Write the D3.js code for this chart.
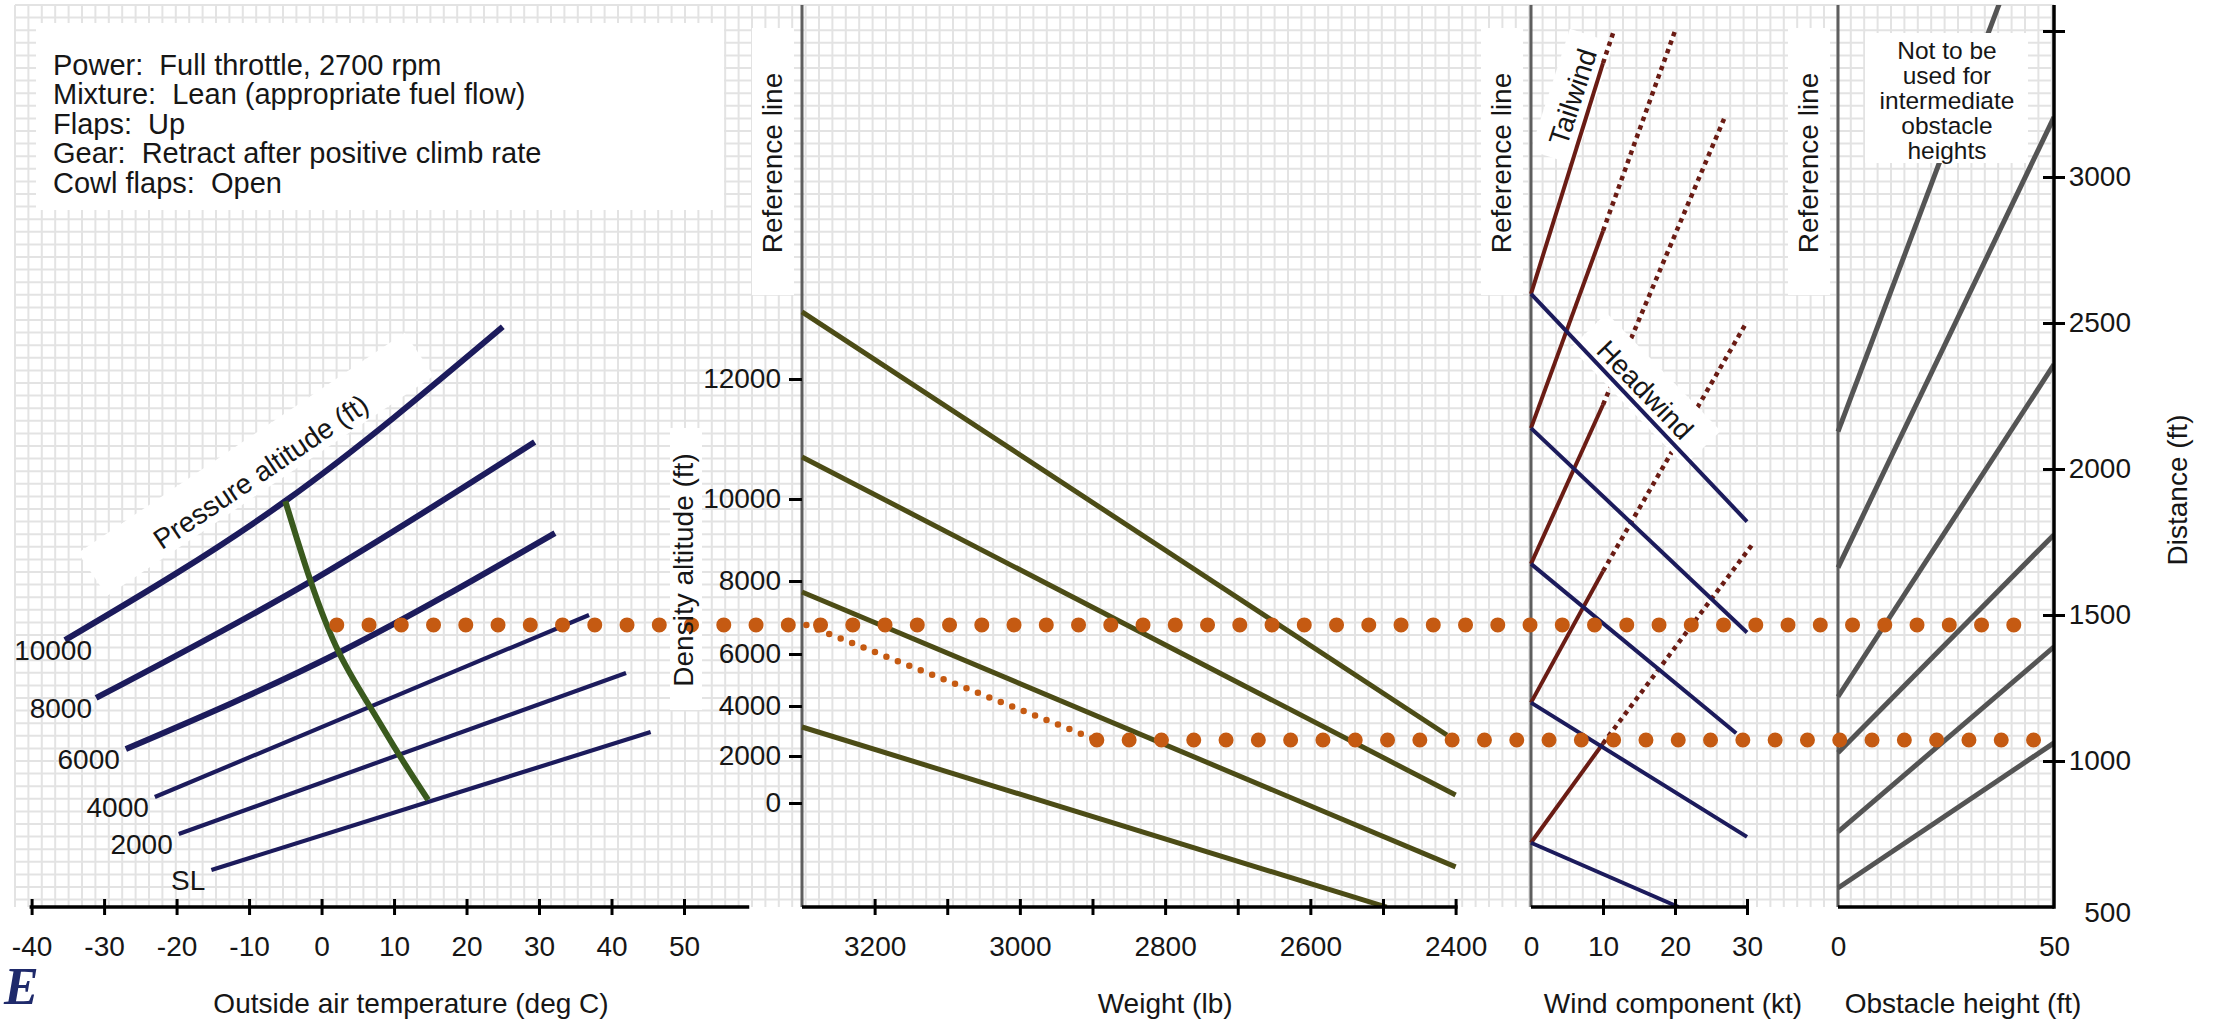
<!DOCTYPE html>
<html>
<head>
<meta charset="utf-8">
<script src="https://cdn.jsdelivr.net/npm/d3@7"></script>
<style>
  body { margin: 0; background: #fff; }
  text { font-family: "Liberation Sans", Arial, sans-serif; fill: #161616; }
</style>
</head>
<body>
<svg id="chart"></svg>
<script>
// ---- values ----
const tempTicks = [-40, -30, -20, -10, 0, 10, 20, 30, 40, 50];
const densityTicks = [0, 2000, 4000, 6000, 8000, 10000, 12000];
const weightTicks = [3200, 3100, 3000, 2900, 2800, 2700, 2600, 2500, 2400];
const weightLabels = [3200, 3000, 2800, 2600, 2400];
const windTicks = [0, 10, 20, 30];
const obstacleTicks = [0, 50];
const distanceTicks = [500, 1000, 1500, 2000, 2500, 3000, 3500];

const conditions = [
  "Power:  Full throttle, 2700 rpm",
  "Mixture:  Lean (appropriate fuel flow)",
  "Flaps:  Up",
  "Gear:  Retract after positive climb rate",
  "Cowl flaps:  Open"
];
const notUsedText = ["Not to be", "used for", "intermediate", "obstacle", "heights"];

// pressure altitude curves, points as [OAT degC, density altitude ft]
const pressureNames = ["10000", "8000", "6000", "4000", "2000", "SL"];
const pa10000 = [[-35.4, 6380], [-5, 9950], [25, 12870]];
const pa8000  = [[-31.1, 4310], [-1.5, 7990], [29.4, 10950]];
const pa6000  = [[-27, 2280], [2.4, 6040], [32.2, 9170]];
const pa4000  = [[-23, 255], [36.9, 7070]];
const pa2000  = [[-19.7, -1320], [42, 5270]];
const paSL    = [[-15.2, -2850], [45.4, 2960]];
const pressureCurves = [pa10000, pa8000, pa6000, pa4000, pa2000, paSL];

// standard temperature line [OAT, density altitude]
const standardTemp = [[-5, 9950], [-1.5, 7990], [2.4, 6040], [6.7, 3960], [10.8, 2000], [14.7, 130]];

// weight guide lines [weight lb, density altitude ft]
const weightLines = [
  [[3300, 13120], [2412, 2840]],
  [[3300, 10700], [2400, 340]],
  [[3300, 7700], [2400, -2720]],
  [[3300, 3160], [2495, -4430]]
];

// wind guide lines, distance ft at 0 kt and the ends [kt, distance]
const windStart = [2600, 2140, 1675, 1200, 720];
const tailAt10 = [3390, 2815, 2220, 1650, 1060];
const tailDotEnd = [[11.5, 3500], [20, 3500], [27, 3210], [30, 2505], [31, 1750]];
const headEnd = [[30, 1820], [30, 1440], [28.5, 1095], [30, 740], [20.5, 500]];

// obstacle guide lines [obstacle ft, distance ft]
const obstacleLines = [
  [[0, 2128], [37.3, 3592]],
  [[0, 1662], [50, 3205]],
  [[0, 1220], [50, 2358]],
  [[0, 1028], [50, 1775]],
  [[0, 757], [50, 1391]],
  [[0, 565], [50, 1062]]
];

// worked example (orange dots)
const exampleTemp = 2.1;
const exampleHigh = 1466, exampleLow = 1072;          // distance ft
const exampleWeightStart = 3294, exampleWeightTurn = 2894;
const exampleObstacleHigh = 41, exampleObstacleLow = 45.3;

// ---- layout ----
const width = 2216, height = 1021;
const axisY = 907, topY = 5;

const svg = d3.select("#chart").attr("width", width).attr("height", height);

const xT = d3.scaleLinear().domain([-40, 50]).range([31.6, 684]);
const yDA = d3.scaleLinear().domain(densityTicks).range([803, 756, 706, 654, 581, 499, 379]);
const xW = d3.scaleLinear().domain([3300, 2400]).range([802, 1455.6]);
const xWind = d3.scaleLinear().domain([0, 30]).range([1531, 1747]);
const xObs = d3.scaleLinear().domain([0, 50]).range([1838, 2054]);
const yD = d3.scaleLinear().domain([500, 3500]).range([axisY, 31]);

const navy = "#1c1b5c", olive = "#4c4c16", brown = "#6a1c14", grey = "#545454",
      green = "#3a5a1e", orange = "#c55a12";

svg.append("defs").append("clipPath").attr("id", "plot")
  .append("rect").attr("x", 0).attr("y", topY).attr("width", 2054).attr("height", axisY - topY);

// grid paper
const grid = svg.append("g");
grid.selectAll(".gx").data(d3.range(15, 2054, 13.4)).join("line")
  .attr("x1", d => d).attr("x2", d => d).attr("y1", topY).attr("y2", axisY)
  .attr("stroke", "#e3e3e3").attr("stroke-width", 2);
grid.selectAll(".gy").data(d3.range(topY, axisY, 12.6)).join("line")
  .attr("x1", 15).attr("x2", 2054).attr("y1", d => d).attr("y2", d => d)
  .attr("stroke", "#e3e3e3").attr("stroke-width", 2);

// white label boxes under the lines
const boxes = svg.append("g").attr("fill", "#fff");
boxes.append("rect").attr("x", 36).attr("y", 23).attr("width", 688).attr("height", 187);
[802, 1531, 1838].forEach(rx => {
  boxes.append("rect").attr("x", rx - 50).attr("y", 28).attr("width", 42).attr("height", 267);
});
boxes.append("rect").attr("x", 670).attr("y", 428).attr("width", 32).attr("height", 282);
boxes.append("g").attr("transform", "translate(257,466) rotate(-34)")
  .append("rect").attr("x", -197).attr("y", -28).attr("width", 394).attr("height", 52);
boxes.append("g").attr("transform", "translate(1573,97) rotate(-72)")
  .append("rect").attr("x", -64).attr("y", -24).attr("width", 128).attr("height", 46);

const plot = svg.append("g").attr("clip-path", "url(#plot)");

// reference lines
[xW(3300), xWind(0), xObs(0)].forEach(rx => {
  plot.append("line").attr("x1", rx).attr("x2", rx).attr("y1", topY).attr("y2", axisY)
    .attr("stroke", "#5e5e5e").attr("stroke-width", 3);
});

// temperature panel
const lineT = d3.line().x(d => xT(d[0])).y(d => yDA(d[1])).curve(d3.curveNatural);
plot.selectAll(".pa").data(pressureCurves).join("path")
  .attr("d", lineT).attr("fill", "none").attr("stroke", navy)
  .attr("stroke-width", (d, i) => i < 3 ? 6 : 4.2);
plot.append("path").datum(standardTemp)
  .attr("d", lineT)
  .attr("fill", "none").attr("stroke", green).attr("stroke-width", 6);

// weight panel
plot.selectAll(".wt").data(weightLines).join("path")
  .attr("d", d3.line().x(d => xW(d[0])).y(d => yDA(d[1])))
  .attr("fill", "none").attr("stroke", olive).attr("stroke-width", 5);

// wind panel: dotted tailwind continuations
const lineWind = d3.line().x(d => xWind(d[0])).y(d => yD(d[1]));
plot.selectAll(".td").data(tailAt10.map((v, i) => [[10, v], tailDotEnd[i]])).join("path")
  .attr("d", lineWind).attr("fill", "none").attr("stroke", brown)
  .attr("stroke-width", 4.5).attr("stroke-dasharray", "4.5 4.5");

// headwind label box covers the dots
const headBox = svg.append("g").attr("transform", "translate(1645,390) rotate(46)");
headBox.append("rect").attr("x", -82).attr("y", -26).attr("width", 164).attr("height", 50).attr("fill", "#fff");

const plot2 = svg.append("g").attr("clip-path", "url(#plot)");
plot2.selectAll(".ts").data(windStart.map((v, i) => [[0, v], [10, tailAt10[i]]])).join("path")
  .attr("d", lineWind).attr("fill", "none").attr("stroke", brown).attr("stroke-width", 4);
plot2.selectAll(".hw").data(windStart.map((v, i) => [[0, v], headEnd[i]])).join("path")
  .attr("d", lineWind).attr("fill", "none").attr("stroke", navy).attr("stroke-width", 4);

// obstacle panel
plot2.selectAll(".ob").data(obstacleLines).join("path")
  .attr("d", d3.line().x(d => xObs(d[0])).y(d => yD(d[1])))
  .attr("fill", "none").attr("stroke", grey).attr("stroke-width", 5);

svg.append("rect").attr("x", 1865).attr("y", 33).attr("width", 163).attr("height", 130).attr("fill", "#fff");

// worked example
const ex = svg.append("g").attr("fill", "none").attr("stroke", orange).attr("stroke-linecap", "round");
ex.append("line")
  .attr("x1", xT(exampleTemp)).attr("x2", xObs(exampleObstacleHigh))
  .attr("y1", yD(exampleHigh)).attr("y2", yD(exampleHigh))
  .attr("stroke-width", 15).attr("stroke-dasharray", "0 32.25");
ex.append("line")
  .attr("x1", xW(exampleWeightStart)).attr("x2", xW(exampleWeightTurn))
  .attr("y1", yD(exampleHigh)).attr("y2", yD(exampleLow))
  .attr("stroke-width", 6.5).attr("stroke-dasharray", "0 12.3");
ex.append("line")
  .attr("x1", xW(exampleWeightTurn)).attr("x2", xObs(exampleObstacleLow))
  .attr("y1", yD(exampleLow)).attr("y2", yD(exampleLow))
  .attr("stroke-width", 15).attr("stroke-dasharray", "0 32.3");

// ---- texts ----
const fs = 28;
svg.append("text").attr("x", 53).attr("font-size", 29).style("white-space", "pre")
  .selectAll("tspan").data(conditions).join("tspan")
  .attr("x", 53).attr("y", (d, i) => 75 + i * 29.4).text(d => d);

svg.append("text").attr("font-size", 24.5).attr("text-anchor", "middle")
  .selectAll("tspan").data(notUsedText).join("tspan")
  .attr("x", 1947).attr("y", (d, i) => 59 + i * 25).text(d => d);

[802, 1531, 1838].forEach(rx => {
  svg.append("text").attr("transform", `translate(${rx - 20},163) rotate(-90)`)
    .attr("text-anchor", "middle").attr("font-size", fs).text("Reference line");
});

svg.append("text").attr("transform", "translate(261,472) rotate(-34)")
  .attr("text-anchor", "middle").attr("dominant-baseline", "central")
  .attr("font-size", fs).text("Pressure altitude (ft)");
svg.append("text").attr("transform", "translate(1573,97) rotate(-72)")
  .attr("text-anchor", "middle").attr("dominant-baseline", "central")
  .attr("font-size", fs).text("Tailwind");
headBox.append("text").attr("text-anchor", "middle").attr("dominant-baseline", "central")
  .attr("font-size", fs).text("Headwind");

svg.append("text").attr("transform", "translate(693,570) rotate(-90)")
  .attr("text-anchor", "middle").attr("font-size", fs).text("Density altitude (ft)");
svg.append("text").attr("transform", "translate(2187,490) rotate(-90)")
  .attr("text-anchor", "middle").attr("font-size", fs).text("Distance (ft)");

svg.selectAll(".palab").data(pressureCurves).join("text")
  .attr("x", d => Math.max(xT(d[0][0]) - 6, 92))
  .attr("y", d => yDA(d[0][1]) + 20)
  .attr("text-anchor", "end").attr("font-size", fs)
  .text((d, i) => pressureNames[i]);

// axis titles
const titleY = 1013;
[["Outside air temperature (deg C)", 411], ["Weight (lb)", xW(2800)],
 ["Wind component (kt)", 1673], ["Obstacle height (ft)", 1963]].forEach(([t, x]) => {
  svg.append("text").attr("x", x).attr("y", titleY).attr("text-anchor", "middle")
    .attr("font-size", fs).text(t);
});

// ---- axes ----
function styleBottom(g) {
  g.select(".domain").remove();
  g.selectAll(".tick line").attr("y1", -8).attr("y2", 8).attr("stroke", "#000").attr("stroke-width", 3);
  g.selectAll(".tick text").attr("font-size", fs).attr("fill", "#161616");
}
function baseLine(x1, x2) {
  svg.append("line").attr("x1", x1).attr("x2", x2).attr("y1", axisY).attr("y2", axisY)
    .attr("stroke", "#000").attr("stroke-width", 3.5);
}

baseLine(xT(-40) - 2, xT(59));
svg.append("g").attr("transform", `translate(0,${axisY})`)
  .call(d3.axisBottom(xT).tickValues(tempTicks).tickFormat(d => String(d)).tickSize(8).tickPadding(21))
  .call(styleBottom);

baseLine(xW(3300), xW(2400) + 2);
svg.append("g").attr("transform", `translate(0,${axisY})`)
  .call(d3.axisBottom(xW).tickValues(weightTicks)
    .tickFormat(d => weightLabels.includes(d) ? String(d) : "").tickSize(8).tickPadding(21))
  .call(styleBottom);

baseLine(xWind(0), xWind(30) + 2);
svg.append("g").attr("transform", `translate(0,${axisY})`)
  .call(d3.axisBottom(xWind).tickValues(windTicks).tickSize(8).tickPadding(21))
  .call(styleBottom)
  .call(g => g.selectAll(".tick").filter(d => d === 0).select("line").remove());

baseLine(xObs(0), xObs(50));
svg.append("g").attr("transform", `translate(0,${axisY})`)
  .call(d3.axisBottom(xObs).tickValues(obstacleTicks).tickSize(8).tickPadding(21))
  .call(styleBottom)
  .call(g => g.selectAll(".tick line").remove());

// density altitude axis (left of weight reference line)
svg.append("g").attr("transform", `translate(${xW(3300)},0)`)
  .call(d3.axisLeft(yDA).tickValues(densityTicks).tickFormat(d => String(d)).tickSize(13).tickPadding(8))
  .call(g => g.select(".domain").remove())
  .call(g => g.selectAll(".tick line").attr("stroke", "#000").attr("stroke-width", 3))
  .call(g => g.selectAll(".tick text").attr("font-size", fs).attr("fill", "#161616"));

// distance axis
svg.append("line").attr("x1", 2054).attr("x2", 2054).attr("y1", topY).attr("y2", axisY + 1.7)
  .attr("stroke", "#000").attr("stroke-width", 3.5);
svg.append("g").attr("transform", "translate(2054,0)")
  .call(d3.axisRight(yD).tickValues(distanceTicks)
    .tickFormat(d => d === 3500 ? "" : String(d)).tickSize(11).tickPadding(0))
  .call(g => g.select(".domain").remove())
  .call(g => g.selectAll(".tick line").attr("x1", -11).attr("stroke", "#000").attr("stroke-width", 3))
  .call(g => g.selectAll(".tick").filter(d => d === 500).select("line").remove())
  .call(g => g.selectAll(".tick text").attr("x", 77).attr("text-anchor", "end")
    .attr("font-size", fs).attr("fill", "#161616"))
  .call(g => g.selectAll(".tick").filter(d => d === 500).select("text").attr("dy", "0.5em"));

// corner logo fragment
svg.append("text").attr("x", 4).attr("y", 1004)
  .style("font-family", "'Liberation Serif', 'DejaVu Serif', serif").style("font-style", "italic")
  .style("font-weight", "bold").style("font-size", "52px").style("fill", "#1f2a6b").text("E");
</script>
</body>
</html>
